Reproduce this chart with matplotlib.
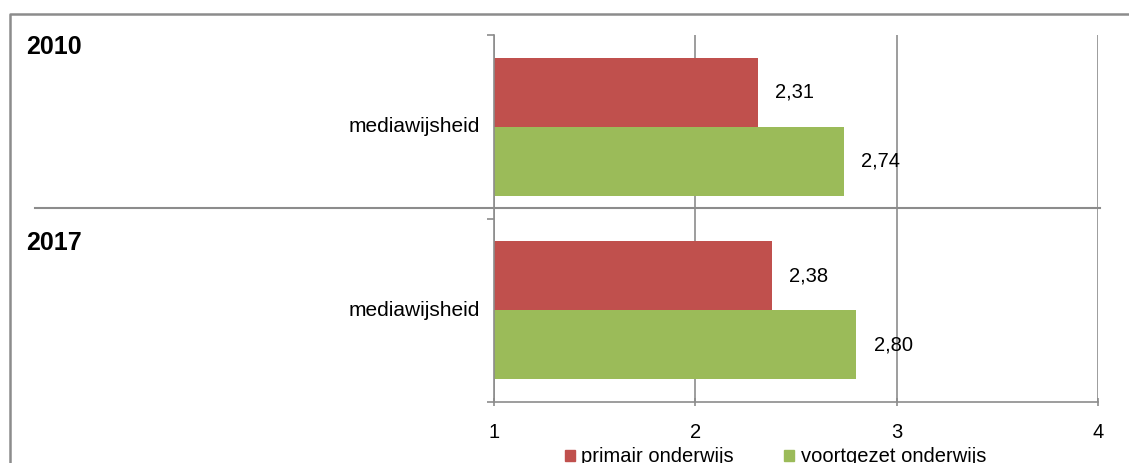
import numpy as np
import matplotlib.pyplot as plt
from matplotlib.lines import Line2D
from matplotlib.patches import Patch

# data
years = ["2010", "2017"]
categories = ["mediawijsheid", "mediawijsheid"]
primair = [2.31, 2.38]
voortgezet = [2.74, 2.80]
series_names = ["primair onderwijs", "voortgezet onderwijs"]
colors = ["#C0504D", "#9BBB59"]
xticks = [1, 2, 3, 4]

plt.rcParams['font.family'] = ['Liberation Sans', 'DejaVu Sans']
grey = "#8C8C8C"
fs = 14.5

fig = plt.figure(figsize=(11.29, 4.63), dpi=100)
ax = fig.add_axes([494 / 1129, 1 - 402 / 463, 604 / 1129, 367 / 463])

centers = np.arange(len(categories)) + 0.5
h = 0.376
ax.barh(centers - h / 2, np.array(primair) - 1, left=1, height=h, color=colors[0])
ax.barh(centers + h / 2, np.array(voortgezet) - 1, left=1, height=h, color=colors[1])

for c, v in zip(centers, primair):
    ax.text(v + 0.085, c - h / 2, f"{v:.2f}".replace(".", ","), va="center", ha="left", fontsize=fs)
for c, v in zip(centers, voortgezet):
    ax.text(v + 0.085, c + h / 2, f"{v:.2f}".replace(".", ","), va="center", ha="left", fontsize=fs)

ax.set_xlim(1, 4)
ax.set_ylim(len(categories), 0)
ax.set_xticks(xticks)
ax.set_xticklabels([str(t) for t in xticks], fontsize=fs)
ax.set_yticks(np.arange(len(categories) + 1))
ax.set_yticklabels([])
ax.tick_params(axis="y", length=5, color=grey, width=1.2)
ax.tick_params(axis="x", length=6, direction="inout", color=grey, width=1.2, pad=12)
ax.set_axisbelow(True)
ax.grid(axis="x", color=grey, linewidth=1.2)
for side in ["top", "right"]:
    ax.spines[side].set_visible(False)
for side in ["left", "bottom"]:
    ax.spines[side].set_color(grey)
    ax.spines[side].set_linewidth(1.2)

for c, cat in zip(centers, categories):
    ax.text(-0.023, c, cat, transform=ax.get_yaxis_transform(), ha="right", va="center", fontsize=15)

# year labels and separator
for y, yr in zip([47, 243], years):
    fig.text(26 / 1129, 1 - y / 463, yr, fontsize=18, fontweight="bold", va="center", ha="left")
fig.add_artist(Line2D([35 / 1129, 1100 / 1129], [1 - 208 / 463] * 2, color=grey, linewidth=1.5))

# outer frame
fig.add_artist(Line2D([10 / 1129, 10 / 1129, 1.0], [0, 1 - 14 / 463, 1 - 14 / 463], color=grey, linewidth=1.8))

handles = [Patch(color=col) for col in colors]
fig.legend(handles, series_names, loc="center", bbox_to_anchor=(0.687, 1 - 457 / 463), ncol=2,
           frameon=False, fontsize=fs, handlelength=0.5, handleheight=0.5, handletextpad=0.3,
           columnspacing=2.5, borderpad=0)

fig.savefig("out.png", dpi=100)
